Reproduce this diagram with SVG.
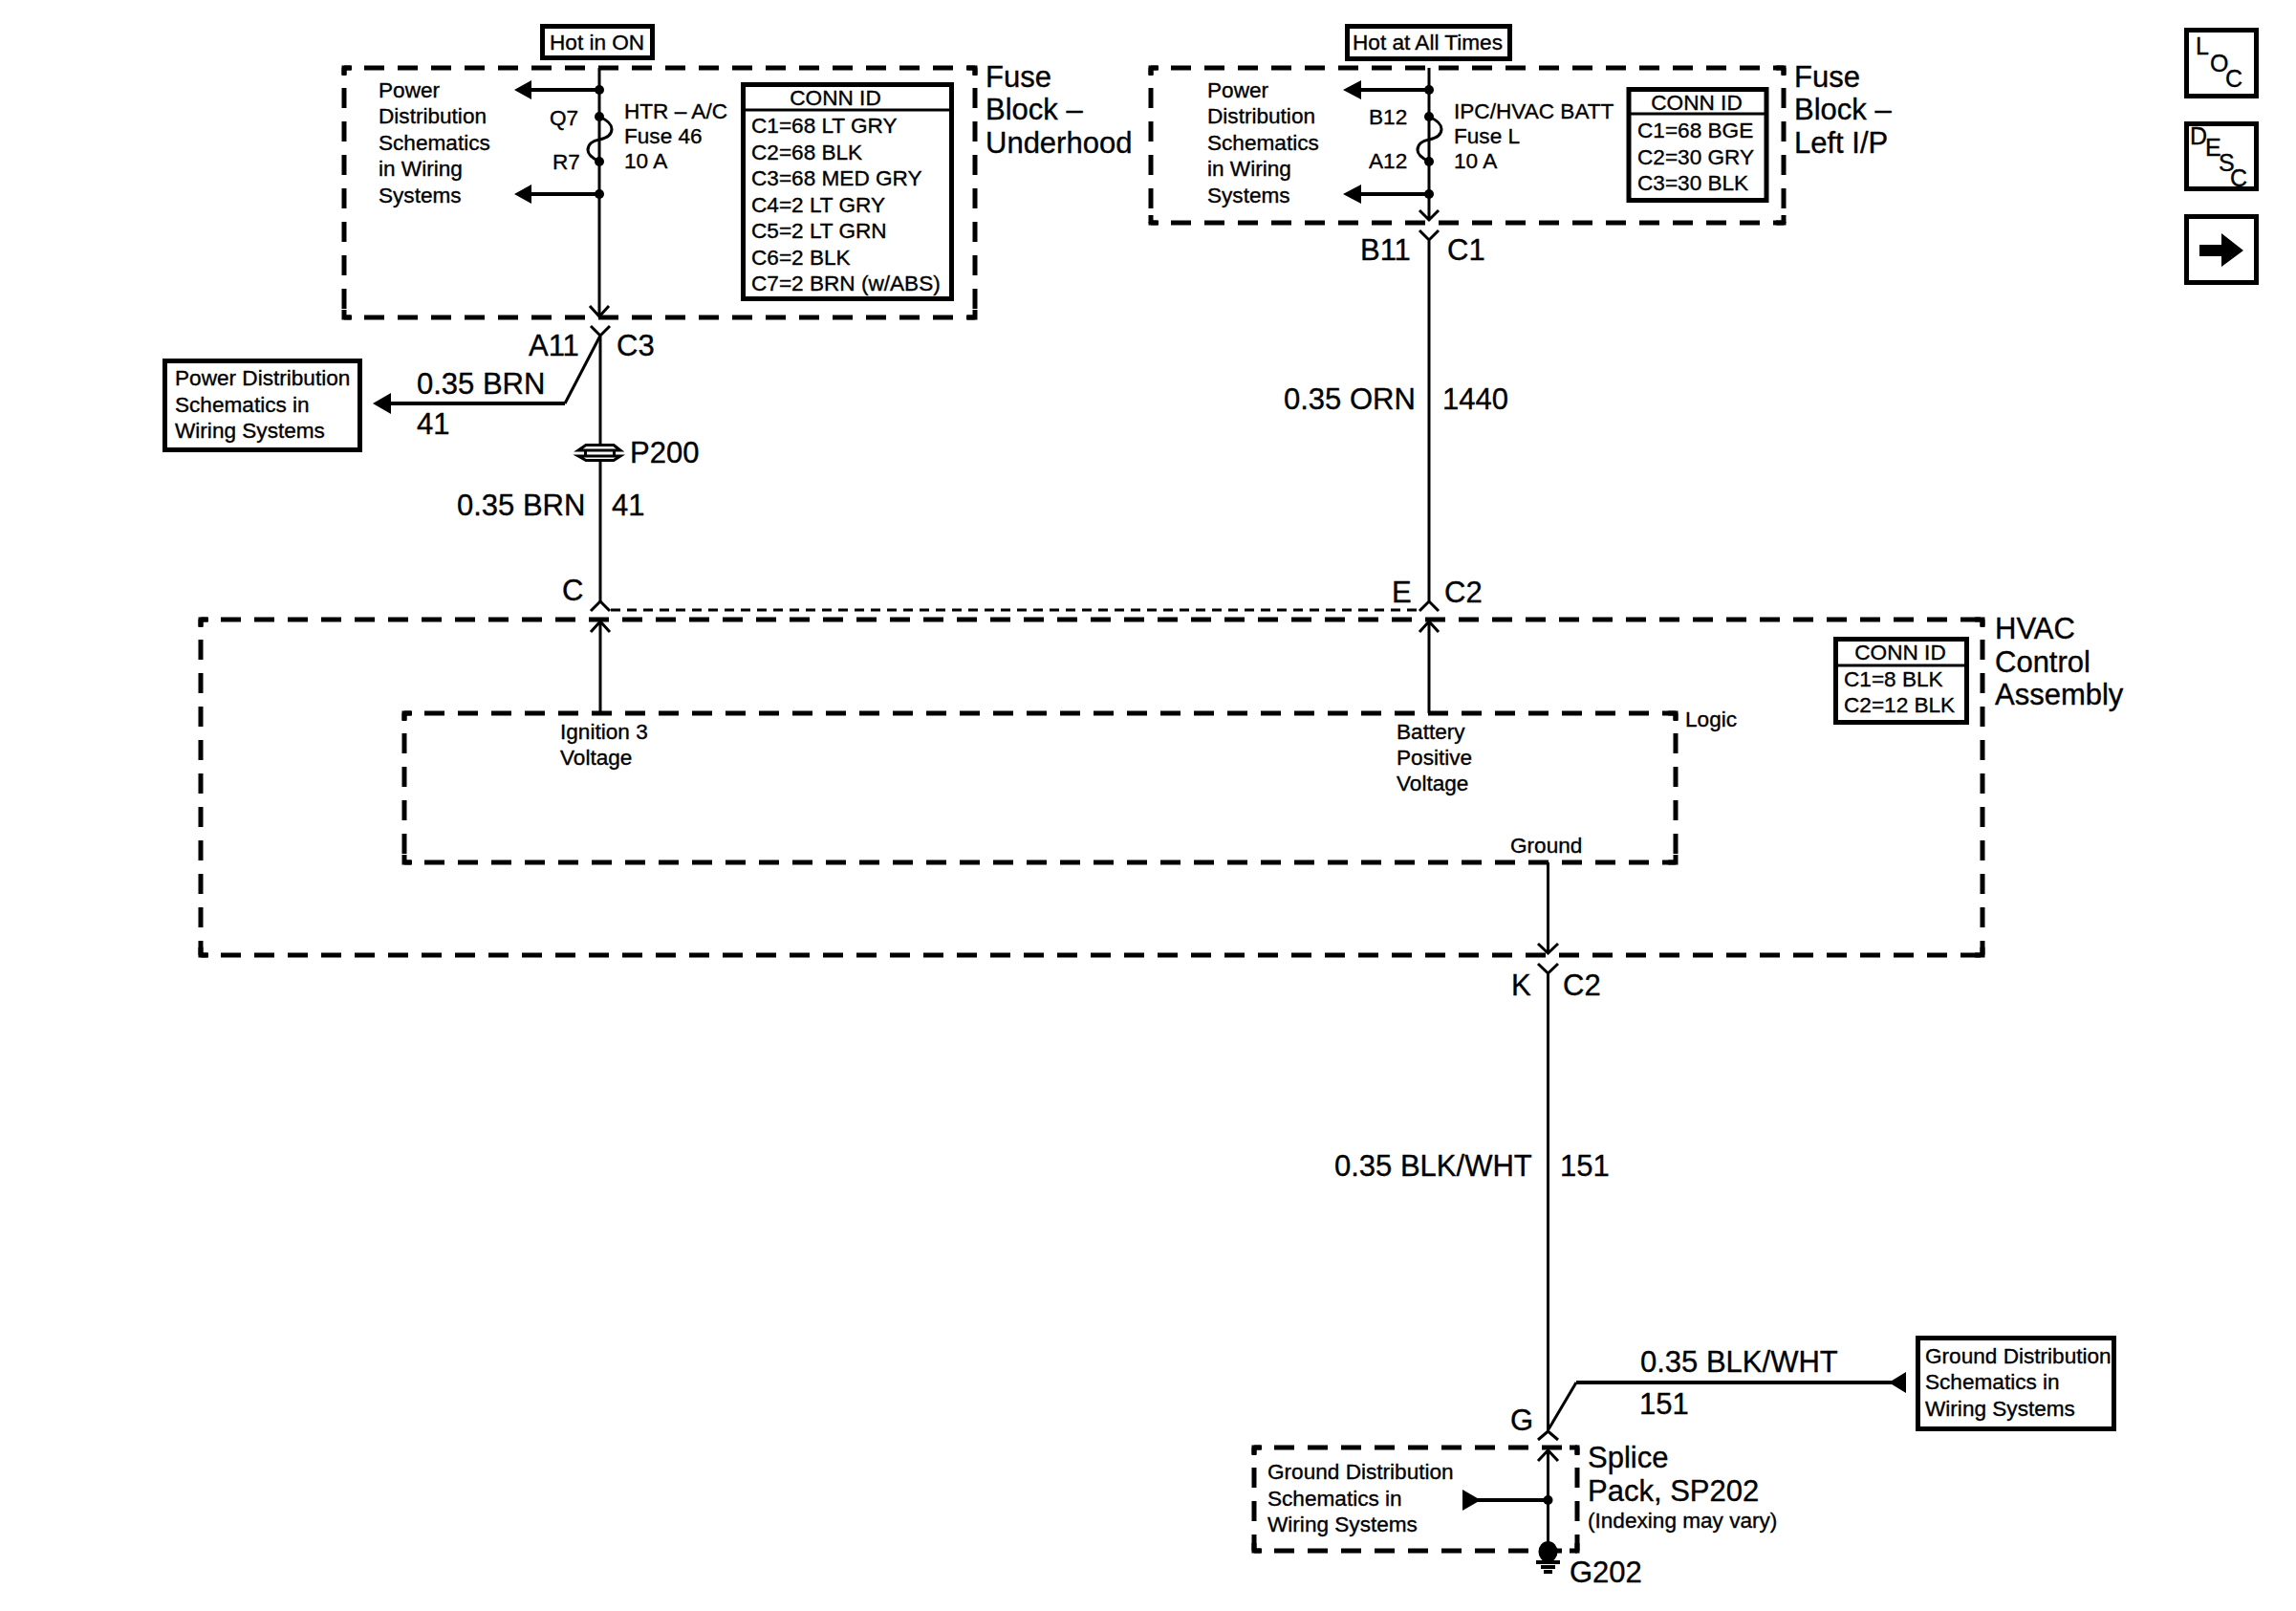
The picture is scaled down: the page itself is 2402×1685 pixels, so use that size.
<svg xmlns="http://www.w3.org/2000/svg" width="2402" height="1685" viewBox="0 0 2402 1685">
<style>
text{font-family:"Liberation Sans",Arial,sans-serif;fill:#000;stroke:#000;stroke-width:.35}
.s{font-size:22.6px}
.l{font-size:31px}
.m{font-size:25px}
.c{text-anchor:middle}
.box{fill:#fff;stroke:#000;stroke-width:5}
.dash{fill:none;stroke:#000;stroke-width:5;stroke-dasharray:21 14;stroke-dashoffset:14}
.corner{fill:none;stroke:#000;stroke-width:5}
.thin{fill:none;stroke:#000;stroke-width:3}
.thick{fill:none;stroke:#000;stroke-width:4}
.div{fill:none;stroke:#000;stroke-width:3}
.solid{fill:#000;stroke:none}
</style>
<rect width="2402" height="1685" fill="#fff"/>

<g id="connectors">
<path class="thin" d="M627 71V332M617 320L627 331L637 320"/>
<path class="thick" d="M627 94H550M627 203H550"/>
<path class="solid" d="M538 94L556 84V104ZM538 203L556 193V213Z"/>
<circle class="solid" cx="627" cy="94" r="5"/><circle class="solid" cx="627" cy="203" r="5"/>
<circle class="solid" cx="627" cy="122" r="5"/><circle class="solid" cx="627" cy="169" r="5"/>
<path class="thin" d="M627 122C636 126 640 130 640 135C640 142 632 145 627 146C620 147 615 151 615 157C615 162 621 166 627 169"/>
<path class="thin" d="M618 341L628 351L638 341M628 351V464M628 482V629"/>
<path class="thin" d="M628 351L591 422"/>
<path class="thick" d="M591 422H405"/>
<path class="solid" d="M390 422L409 411V433Z"/>
<path class="thin" d="M605 471L613 465.500H642L649 471ZM605 477L613 481.500H642L649 477ZM612.500 471V477M642.500 471V477"/>
<path class="thin" d="M618 639L628 629L638 639"/>
<path d="M639 638H1485" fill="none" stroke="#000" stroke-width="3" stroke-dasharray="10 7"/>
<path class="thin" d="M628 746V651M618 661L628 650L638 661"/>

<path class="thin" d="M1495 71V231M1485 220L1495 230L1505 220"/>
<path class="thick" d="M1495 94H1418M1495 203H1418"/>
<path class="solid" d="M1405 94L1424 84V104ZM1405 203L1424 193V213Z"/>
<circle class="solid" cx="1495" cy="94" r="5"/><circle class="solid" cx="1495" cy="203" r="5"/>
<circle class="solid" cx="1495" cy="122" r="5"/><circle class="solid" cx="1495" cy="169" r="5"/>
<path class="thin" d="M1495 122C1504 126 1508 130 1508 135C1508 142 1500 145 1495 146C1488 147 1483 151 1483 157C1483 162 1489 166 1495 169"/>
<path class="thin" d="M1485 241L1495 251L1505 241M1495 251V629M1485 639L1495 629L1505 639"/>
<path class="thin" d="M1495 746V651M1485 661L1495 650L1505 661"/>

<path class="thin" d="M1619.500 902V996M1609 987L1619.500 997L1630 987"/>
<path class="thin" d="M1609 1008L1619.500 1018L1630 1008M1619.500 1018V1497M1609 1506L1619.500 1497L1630 1506"/>
<path class="thin" d="M1620 1495L1649 1446"/>
<path class="thick" d="M1649 1446H1980"/>
<path class="solid" d="M1976 1446L1994 1435V1457Z"/>
<path class="thin" d="M1619.500 1623V1518M1609 1528L1619.500 1517L1630 1528"/>
<path class="thick" d="M1619.500 1569H1545"/>
<path class="solid" d="M1549 1569L1530 1558V1580Z"/>
<circle class="solid" cx="1619.500" cy="1569" r="5"/>
<ellipse class="solid" cx="1619.500" cy="1623" rx="10" ry="11"/>
<path class="thick" d="M1619.500 1630V1634M1607 1634H1632M1612 1639H1627"/>
<path class="thick" d="M1615 1644H1624"/>
</g>

<g id="hot-on"><rect class="box" x="567.500" y="27.500" width="115" height="33"/><text class="s" x="575" y="52">Hot in ON</text></g>
<g id="fuse-block-underhood">
<path class="dash" d="M360 71H1020M360 332H1020M360 71V332M1020 71V332"/>
<path class="corner" d="M368 71H360V79M1012 71H1020V79M368 332H360V324M1012 332H1020V324"/>
<text class="s" x="396" y="102">Power</text><text class="s" x="396" y="129">Distribution</text><text class="s" x="396" y="157">Schematics</text><text class="s" x="396" y="184">in Wiring</text><text class="s" x="396" y="212">Systems</text>
<text class="s" x="575" y="131">Q7</text><text class="s" x="578" y="177">R7</text>
<text class="s" x="653" y="124">HTR – A/C</text><text class="s" x="653" y="150">Fuse 46</text><text class="s" x="653" y="176">10 A</text>
<rect class="box" x="777.500" y="88.500" width="218" height="224"/><path class="div" d="M777 115H995"/>
<text class="s c" x="874" y="110">CONN ID</text>
<text class="s" x="786" y="139">C1=68 LT GRY</text><text class="s" x="786" y="167">C2=68 BLK</text><text class="s" x="786" y="194">C3=68 MED GRY</text><text class="s" x="786" y="222">C4=2 LT GRY</text><text class="s" x="786" y="249">C5=2 LT GRN</text><text class="s" x="786" y="277">C6=2 BLK</text><text class="s" x="786" y="304">C7=2 BRN (w/ABS)</text>
<text class="l" x="1031" y="91">Fuse</text><text class="l" x="1031" y="125">Block –</text><text class="l" x="1031" y="160">Underhood</text>
</g>

<g id="hot-all"><rect class="box" x="1409.500" y="27.500" width="170" height="34"/><text class="s" x="1415" y="52">Hot at All Times</text></g>
<g id="fuse-block-left-ip">
<path class="dash" d="M1204 71H1866M1204 233H1866M1204 71V233M1866 71V233"/>
<path class="corner" d="M1212 71H1204V79M1858 71H1866V79M1212 233H1204V225M1858 233H1866V225"/>
<text class="s" x="1263" y="102">Power</text><text class="s" x="1263" y="129">Distribution</text><text class="s" x="1263" y="157">Schematics</text><text class="s" x="1263" y="184">in Wiring</text><text class="s" x="1263" y="212">Systems</text>
<text class="s" x="1432" y="130">B12</text><text class="s" x="1432" y="176">A12</text>
<text class="s" x="1521" y="124">IPC/HVAC BATT</text><text class="s" x="1521" y="150">Fuse L</text><text class="s" x="1521" y="176">10 A</text>
<rect class="box" x="1704" y="93.500" width="144" height="116"/><path class="div" d="M1704 119H1848"/>
<text class="s c" x="1775" y="115">CONN ID</text>
<text class="s" x="1713" y="144">C1=68 BGE</text><text class="s" x="1713" y="172">C2=30 GRY</text><text class="s" x="1713" y="199">C3=30 BLK</text>
<text class="l" x="1877" y="91">Fuse</text><text class="l" x="1877" y="125">Block –</text><text class="l" x="1877" y="160">Left I/P</text>
</g>

<g id="nav-loc"><rect class="box" x="2287.500" y="31.500" width="73" height="69"/><text class="m" x="2297" y="57">L</text><text class="m" x="2312" y="75">O</text><text class="m" x="2328" y="91">C</text></g>
<g id="nav-desc"><rect class="box" x="2287.500" y="129.500" width="73" height="68"/><text class="m" x="2291" y="151">D</text><text class="m" x="2307" y="163">E</text><text class="m" x="2321" y="179">S</text><text class="m" x="2333" y="195">C</text></g>
<g id="nav-next"><rect class="box" x="2287.500" y="226.500" width="73" height="69"/><path class="solid" d="M2301 256H2324V244L2347 262L2324 279V268H2301Z"/></g>

<g id="power-distribution-ref"><rect class="box" x="172.500" y="377.500" width="204" height="93"/><text class="s" x="183" y="403">Power Distribution</text><text class="s" x="183" y="431">Schematics in</text><text class="s" x="183" y="458">Wiring Systems</text></g>

<g id="wire-labels">
<text class="l" x="553" y="372">A11</text><text class="l" x="645" y="372">C3</text>
<text class="l" x="436" y="412">0.35 BRN</text><text class="l" x="436" y="454">41</text>
<text class="l" x="659" y="484">P200</text>
<text class="l" x="478" y="539">0.35 BRN</text><text class="l" x="640" y="539">41</text>
<text class="l" x="588" y="628">C</text>
<text class="l" x="1423" y="272">B11</text><text class="l" x="1514" y="272">C1</text>
<text class="l" x="1343" y="428">0.35 ORN</text><text class="l" x="1509" y="428">1440</text>
<text class="l" x="1456" y="630">E</text><text class="l" x="1511" y="630">C2</text>
<text class="l" x="1581" y="1041">K</text><text class="l" x="1635" y="1041">C2</text>
<text class="l" x="1396" y="1230">0.35 BLK/WHT</text><text class="l" x="1632" y="1230">151</text>
<text class="l" x="1716" y="1435">0.35 BLK/WHT</text><text class="l" x="1715" y="1479">151</text>
<text class="l" x="1580" y="1496">G</text><text class="l" x="1642" y="1655">G202</text>
</g>

<g id="hvac-control-assembly">
<path class="dash" d="M210 648H2074M210 999H2074M210 648V999M2074 648V999"/>
<path class="corner" d="M218 648H210V656M2066 648H2074V656M218 999H210V991M2066 999H2074V991"/>
<rect class="box" x="1920.500" y="668.500" width="137" height="87"/><path class="div" d="M1920 696H2057"/>
<text class="s c" x="1988" y="690">CONN ID</text><text class="s" x="1929" y="718">C1=8 BLK</text><text class="s" x="1929" y="745">C2=12 BLK</text>
<text class="l" x="2087" y="668">HVAC</text><text class="l" x="2087" y="703">Control</text><text class="l" x="2087" y="737">Assembly</text>
</g>

<g id="logic">
<path class="dash" d="M423 746H1753M423 902H1753M423 746V902M1753 746V902"/>
<path class="corner" d="M431 746H423V754M1745 746H1753V754M431 902H423V894M1745 902H1753V894"/>
<text class="s" x="586" y="773">Ignition 3</text><text class="s" x="586" y="800">Voltage</text>
<text class="s" x="1461" y="773">Battery</text><text class="s" x="1461" y="800">Positive</text><text class="s" x="1461" y="827">Voltage</text>
<text class="s" x="1580" y="892">Ground</text><text class="s" x="1763" y="760">Logic</text>
</g>

<g id="splice-pack">
<path class="dash" d="M1312 1514H1650M1312 1622H1650M1312 1514V1622M1650 1514V1622"/>
<path class="corner" d="M1320 1514H1312V1522M1642 1514H1650V1522M1320 1622H1312V1614M1642 1622H1650V1614"/>
<text class="s" x="1326" y="1547">Ground Distribution</text><text class="s" x="1326" y="1575">Schematics in</text><text class="s" x="1326" y="1602">Wiring Systems</text>
<text class="l" x="1661" y="1535">Splice</text><text class="l" x="1661" y="1570">Pack, SP202</text><text class="s" x="1661" y="1598">(Indexing may vary)</text>
</g>

<g id="ground-distribution-ref"><rect class="box" x="2006.500" y="1399.500" width="205" height="95"/><text class="s" x="2014" y="1426">Ground Distribution</text><text class="s" x="2014" y="1453">Schematics in</text><text class="s" x="2014" y="1481">Wiring Systems</text></g>
</svg>
